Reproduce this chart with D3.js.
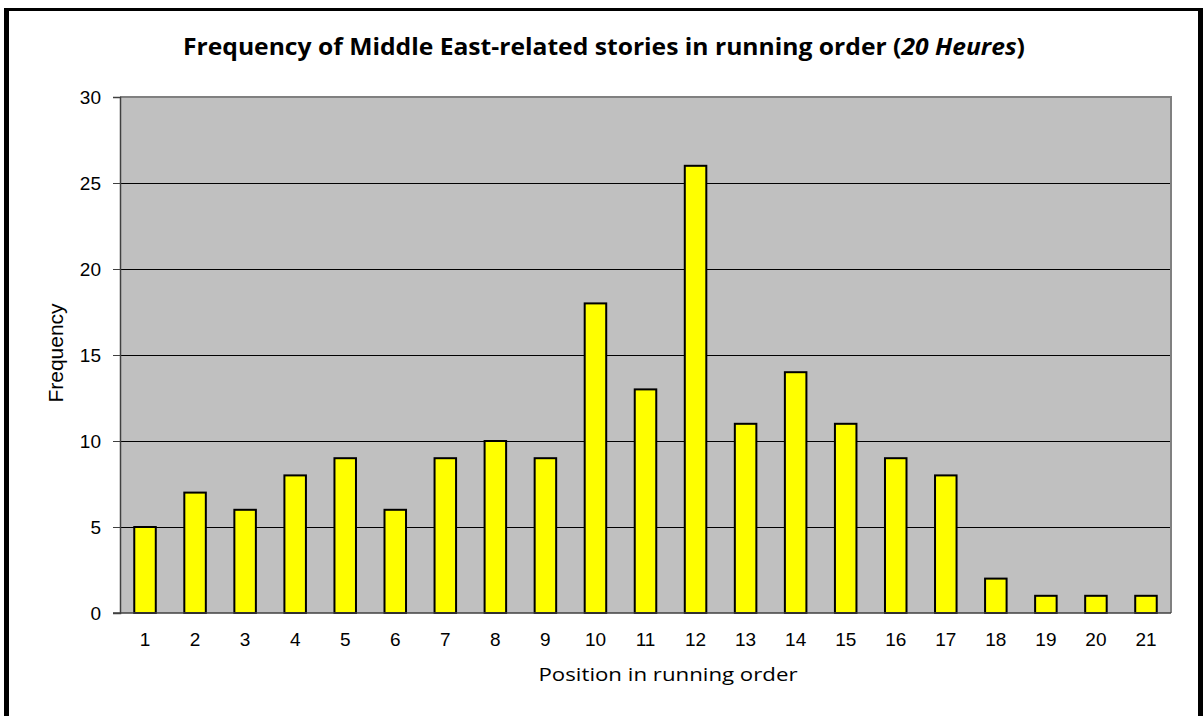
<!DOCTYPE html>
<html><head><meta charset="utf-8">
<script src="https://cdn.jsdelivr.net/npm/d3@7"></script>
<style>body{margin:0;background:#fff}svg{display:block}</style>
</head><body>
<svg id="c" width="1203" height="716"></svg>
<script>
const positions = ["1","2","3","4","5","6","7","8","9","10","11","12","13","14","15","16","17","18","19","20","21"];
const frequencies = [5,7,6,8,9,6,9,10,9,18,13,26,11,14,11,9,8,2,1,1,1];
const yTicks = [0,5,10,15,20,25,30];

const svg = d3.select("#c");
// outer frame
svg.append("rect").attr("x",4).attr("y",8).attr("width",5).attr("height",716).attr("fill","#000");
svg.append("rect").attr("x",4).attr("y",8).attr("width",1199).attr("height",3).attr("fill","#000");
svg.append("rect").attr("x",1198).attr("y",8).attr("width",5).attr("height",716).attr("fill","#000");

const L=120,R=1171,T=97,B=613;
const x = d3.scaleBand().domain(positions).range([L,R]).paddingInner(0.57).paddingOuter(0.285);
const y = d3.scaleLinear().domain([0,30]).range([B,T]);

svg.append("rect").attr("x",L).attr("y",T).attr("width",R-L).attr("height",B-T).attr("fill","#C0C0C0");
// grid
svg.append("g").selectAll("line").data(yTicks.filter(d=>d>0&&d<30)).join("line")
  .attr("x1",L).attr("x2",R).attr("y1",d=>Math.round(y(d))+0.5).attr("y2",d=>Math.round(y(d))+0.5)
  .attr("stroke","#000").attr("stroke-width",1).attr("shape-rendering","crispEdges");
// plot border gray
svg.append("line").attr("x1",L).attr("x2",R+1).attr("y1",T).attr("y2",T).attr("stroke","#808080").attr("stroke-width",2);
svg.append("line").attr("x1",R).attr("x2",R).attr("y1",T).attr("y2",B).attr("stroke","#808080").attr("stroke-width",2);

// bars
svg.append("g").selectAll("rect").data(frequencies).join("rect")
  .attr("x",(d,i)=>x(positions[i])).attr("width",x.bandwidth())
  .attr("y",d=>y(d)).attr("height",d=>B-y(d))
  .attr("fill","#FFFF00").attr("stroke","#000").attr("stroke-width",2);

// y axis
const ya = svg.append("g").attr("transform",`translate(${L},0)`)
  .call(d3.axisLeft(y).tickValues(yTicks).tickSize(7).tickPadding(12));
ya.attr("font-size",null).attr("font-family",null);
ya.select(".domain").attr("stroke","#404040").attr("stroke-width",1.5);
ya.selectAll(".tick line").attr("stroke","#404040");
ya.selectAll("text").style("font-family","'Liberation Sans', Arial, sans-serif").style("font-size","19px").attr("fill","#000");

// x axis
const xa = svg.append("g").attr("transform",`translate(0,${B})`)
  .call(d3.axisBottom(x).tickSize(0).tickPadding(20));
xa.attr("font-size",null).attr("font-family",null);
xa.select(".domain").attr("stroke","#404040").attr("stroke-width",1.5).attr("d",`M${L-7},0H${R}`);
xa.selectAll("text").style("font-family","'Liberation Sans', Arial, sans-serif").style("font-size","19px").attr("fill","#000");

// titles
const t = svg.append("text").attr("x",604).attr("y",55).attr("text-anchor","middle")
  .style("font-family","'Open Sans', Lato, sans-serif").attr("font-weight","bold").style("font-size","24px").attr("fill","#000")
  .attr("textLength",842).attr("lengthAdjust","spacingAndGlyphs");
t.append("tspan").text("Frequency of Middle East-related stories in running order (");
t.append("tspan").attr("font-style","italic").text("20 Heures");
t.append("tspan").text(")");

svg.append("text").attr("x",668).attr("y",681).attr("text-anchor","middle")
  .style("font-family","'Open Sans', Lato, sans-serif").style("font-size","19px").attr("fill","#000")
  .attr("textLength",259).attr("lengthAdjust","spacingAndGlyphs")
  .text("Position in running order");
svg.append("text").attr("transform","translate(63,353) rotate(-90)").attr("text-anchor","middle")
  .style("font-family","'Liberation Sans', Arial, sans-serif").style("font-size","21px").attr("fill","#000")
  .text("Frequency");
</script>
</body></html>
